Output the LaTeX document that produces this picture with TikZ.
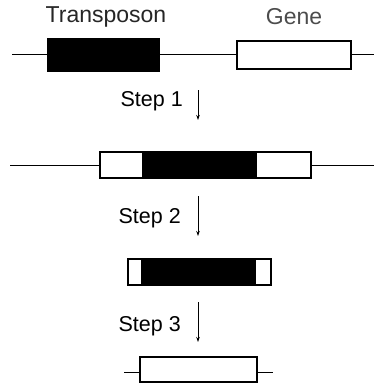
\documentclass[tikz,border=0pt]{standalone}
\usepackage{fontspec}
\setmainfont{Liberation Sans}
\usetikzlibrary{arrows.meta}
\begin{document}
\begin{tikzpicture}[x=1pt,y=-1pt,
  dna/.style={line width=1pt},
  blk/.style={fill=black,draw=black,line width=2pt,inner sep=0,minimum height=#1},
  wbox/.style={fill=white,draw=black,line width=2.6pt,inner sep=0},
  lbl/.style={font=\fontsize{21.5}{24}\selectfont,inner sep=0},
  toplbl/.style={font=\fontsize{23}{26}\selectfont,inner sep=0},
  steparrow/.style={line width=0.7pt,-{Stealth[length=5pt,width=3.5pt]}}]
\useasboundingbox (0,0) rectangle (374,384);
% Row 1
\coordinate (l1) at (12,54);
\coordinate (r1) at (374,54);
\draw[dna] (l1) -- (r1);
\node[blk=32pt,minimum width=111pt] (tp) at (103.5,55) {};
\node[wbox,minimum width=114pt,minimum height=28pt] (gene) at (294,55) {};
\node[toplbl,text=black!85] (tlab) at (106,17) {Transposon};
\node[toplbl,text=black!70] (glab) at (294,17) {Gene};
% Step 1
\node[lbl,anchor=east] (s1) at (183,101) {Step 1};
\coordinate (a1s) at (198,90);
\coordinate (a1e) at (198,120);
\draw[steparrow] (a1s) -- (a1e);
% Row 2
\coordinate (l2) at (10,165);
\coordinate (r2) at (374,165);
\draw[dna] (l2) -- (r2);
\node[wbox,minimum width=211pt,minimum height=26pt] (b2) at (205.5,165) {};
\node[blk=26pt,minimum width=113pt] (t2) at (199,165) {};
% Step 2
\node[lbl,anchor=east] (s2) at (181,218) {Step 2};
\coordinate (a2s) at (198,196);
\coordinate (a2e) at (198,236);
\draw[steparrow] (a2s) -- (a2e);
% Row 3
\node[wbox,minimum width=143pt,minimum height=26pt] (b3) at (199.5,272) {};
\node[blk=26pt,minimum width=113pt] (t3) at (198.5,272) {};
% Step 3
\node[lbl,anchor=east] (s3) at (181,326) {Step 3};
\coordinate (a3s) at (198,302);
\coordinate (a3e) at (198,342);
\draw[steparrow] (a3s) -- (a3e);
% Row 4
\coordinate (l4) at (124,372);
\coordinate (r4) at (273,372);
\draw[dna] (l4) -- (r4);
\node[wbox,minimum width=117pt,minimum height=25pt] (b4) at (198.5,369.5) {};
\end{tikzpicture}
\end{document}
